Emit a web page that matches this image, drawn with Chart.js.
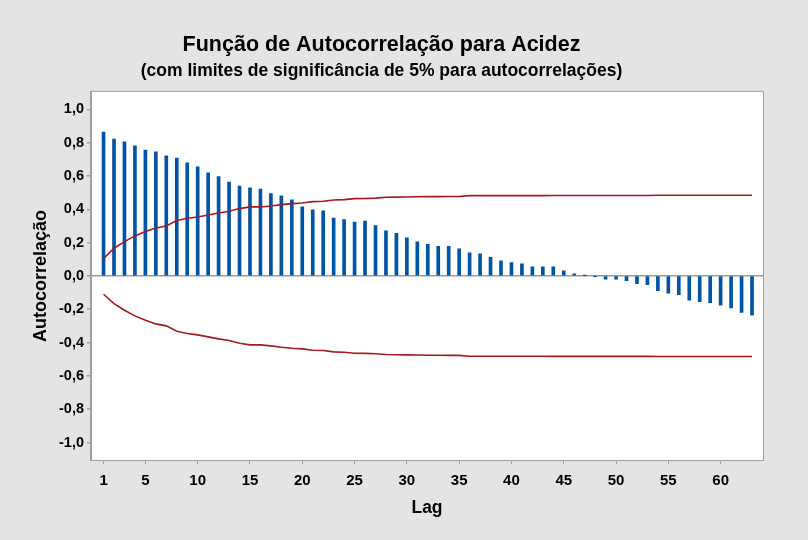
<!DOCTYPE html>
<html>
<head>
<meta charset="utf-8">
<script src="https://cdn.jsdelivr.net/npm/chart.js@4.4.1/dist/chart.umd.min.js"></script>
<style>
  html, body { margin: 0; padding: 0; background: #e4e4e4; }
  #wrap { width: 808px; height: 540px; position: relative; }
</style>
</head>
<body>
<div id="wrap"><canvas id="acf"></canvas></div>
<script>
// ====== DADOS ======
const lags = [1, 2, 3, 4, 5, 6, 7, 8, 9, 10, 11, 12, 13, 14, 15, 16, 17, 18, 19, 20,
  21, 22, 23, 24, 25, 26, 27, 28, 29, 30, 31, 32, 33, 34, 35, 36, 37, 38, 39, 40,
  41, 42, 43, 44, 45, 46, 47, 48, 49, 50, 51, 52, 53, 54, 55, 56, 57, 58, 59, 60,
  61, 62, 63];

const acf = [0.863, 0.821, 0.805, 0.781, 0.755, 0.745, 0.721, 0.707, 0.679, 0.655,
  0.619, 0.596, 0.563, 0.539, 0.529, 0.521, 0.494, 0.480, 0.456, 0.414,
  0.396, 0.390, 0.347, 0.338, 0.323, 0.329, 0.302, 0.270, 0.256, 0.228,
  0.204, 0.190, 0.178, 0.178, 0.162, 0.138, 0.132, 0.112, 0.090, 0.080,
  0.072, 0.054, 0.054, 0.054, 0.030, 0.012, 0.001, -0.001, -0.020, -0.020,
  -0.028, -0.046, -0.052, -0.088, -0.104, -0.112, -0.146, -0.154, -0.160, -0.176,
  -0.192, -0.219, -0.236];

const upperLimit = [0.104, 0.166, 0.206, 0.240, 0.266, 0.288, 0.300, 0.332, 0.346, 0.354,
  0.366, 0.378, 0.388, 0.404, 0.414, 0.414, 0.420, 0.428, 0.434, 0.438,
  0.446, 0.448, 0.456, 0.458, 0.464, 0.465, 0.467, 0.472, 0.473, 0.474,
  0.475, 0.476, 0.476, 0.477, 0.477, 0.482, 0.482, 0.482, 0.482, 0.482,
  0.482, 0.482, 0.482, 0.483, 0.483, 0.483, 0.483, 0.483, 0.483, 0.483,
  0.483, 0.483, 0.483, 0.484, 0.484, 0.484, 0.484, 0.484, 0.484, 0.484,
  0.484, 0.484, 0.484];

const lowerLimit = [-0.110, -0.166, -0.206, -0.240, -0.266, -0.288, -0.300, -0.332, -0.346, -0.354,
  -0.366, -0.378, -0.388, -0.404, -0.414, -0.414, -0.420, -0.428, -0.434, -0.438,
  -0.446, -0.448, -0.456, -0.458, -0.464, -0.465, -0.467, -0.472, -0.473, -0.474,
  -0.475, -0.476, -0.476, -0.477, -0.477, -0.482, -0.482, -0.482, -0.482, -0.482,
  -0.482, -0.482, -0.482, -0.483, -0.483, -0.483, -0.483, -0.483, -0.483, -0.483,
  -0.483, -0.483, -0.483, -0.484, -0.484, -0.484, -0.484, -0.484, -0.484, -0.484,
  -0.484, -0.484, -0.484];

const xTicks = [1, 5, 10, 15, 20, 25, 30, 35, 40, 45, 50, 55, 60];
const yTicks = [-1.0, -0.8, -0.6, -0.4, -0.2, 0.0, 0.2, 0.4, 0.6, 0.8, 1.0];

const FONT = "'Liberation Sans', Arial, sans-serif";
const GRAY = '#a0a0a0';

// fundo cinza + área do gráfico branca com moldura
const plotFrame = {
    id: 'plotFrame',
    beforeDraw(chart) {
        const { ctx, chartArea: a } = chart;
        ctx.save();
        ctx.fillStyle = '#e4e4e4';
        ctx.fillRect(0, 0, chart.width, chart.height);
        ctx.fillStyle = '#ffffff';
        ctx.fillRect(a.left, a.top, a.right - a.left, a.bottom - a.top);
        ctx.restore();
    },
    afterDraw(chart) {
        const { ctx, chartArea: a } = chart;
        ctx.save();
        ctx.strokeStyle = GRAY;
        ctx.lineWidth = 1;
        ctx.strokeRect(a.left - 0.5, a.top - 0.5, a.right - a.left + 1, a.bottom - a.top + 1);
        ctx.restore();
    }
};

document.addEventListener('DOMContentLoaded', () => {
    const ctx = document.getElementById('acf').getContext('2d');

    new Chart(ctx, {
        type: 'bar',
        data: {
            datasets: [
                {
                    type: 'line',
                    data: lags.map((l, i) => ({ x: l, y: upperLimit[i] })),
                    borderColor: '#a31a1f',
                    borderWidth: 1.6,
                    pointRadius: 0,
                    tension: 0,
                    fill: false
                },
                {
                    type: 'line',
                    data: lags.map((l, i) => ({ x: l, y: lowerLimit[i] })),
                    borderColor: '#a31a1f',
                    borderWidth: 1.6,
                    pointRadius: 0,
                    tension: 0,
                    fill: false
                },
                {
                    type: 'bar',
                    data: lags.map((l, i) => ({ x: l, y: acf[i] })),
                    backgroundColor: '#0054a6',
                    barThickness: 3,
                    grouped: false
                }
            ]
        },
        options: {
            responsive: true,
            maintainAspectRatio: false,
            animation: false,
            layout: { padding: { left: 0, right: 45, top: 0, bottom: 0 } },
            plugins: {
                legend: { display: false },
                tooltip: { enabled: false },
                title: {
                    display: true,
                    text: 'Função de Autocorrelação para Acidez',
                    color: '#000',
                    font: { family: FONT, size: 21.5, weight: 'bold', lineHeight: 1.2 },
                    padding: { top: 32, bottom: 2 }
                },
                subtitle: {
                    display: true,
                    text: '(com limites de significância de 5% para autocorrelações)',
                    color: '#000',
                    font: { family: FONT, size: 17.5, weight: 'bold', lineHeight: 1.2 },
                    padding: { top: 1, bottom: 10 }
                }
            },
            scales: {
                x: {
                    type: 'linear',
                    offset: false,
                    min: -0.2,
                    max: 64.05,
                    afterBuildTicks: (scale) => { scale.ticks = xTicks.map(v => ({ value: v })); },
                    afterFit: (scale) => { scale.height = 80; },
                    ticks: {
                        color: '#000',
                        font: { family: FONT, size: 15, weight: 'bold' },
                        padding: 8,
                        maxRotation: 0,
                        autoSkip: false
                    },
                    grid: { offset: false, drawOnChartArea: false, tickLength: 4, tickColor: GRAY },
                    border: { color: GRAY },
                    title: {
                        display: true,
                        text: 'Lag',
                        color: '#000',
                        font: { family: FONT, size: 17.5, weight: 'bold' },
                        padding: { top: 0, bottom: 21.5 }
                    }
                },
                y: {
                    min: -1.105,
                    max: 1.105,
                    afterBuildTicks: (scale) => { scale.ticks = yTicks.map(v => ({ value: v })); },
                    afterFit: (scale) => { scale.width = 91; },
                    ticks: {
                        color: '#000',
                        font: { family: FONT, size: 14.5, weight: 'bold' },
                        padding: 3,
                        callback: (v) => v.toFixed(1).replace('.', ',')
                    },
                    grid: {
                        drawOnChartArea: true,
                        color: (c) => (c.tick && Math.abs(c.tick.value) < 1e-9) ? '#9a9a9a' : 'rgba(0,0,0,0)',
                        lineWidth: 1.5,
                        tickLength: 4,
                        tickColor: GRAY
                    },
                    border: { color: GRAY },
                    title: {
                        display: true,
                        text: 'Autocorrelação',
                        color: '#000',
                        font: { family: FONT, size: 18, weight: 'bold' },
                        padding: { top: 30, bottom: 0 }
                    }
                }
            }
        },
        plugins: [plotFrame]
    });
});
</script>
</body>
</html>
